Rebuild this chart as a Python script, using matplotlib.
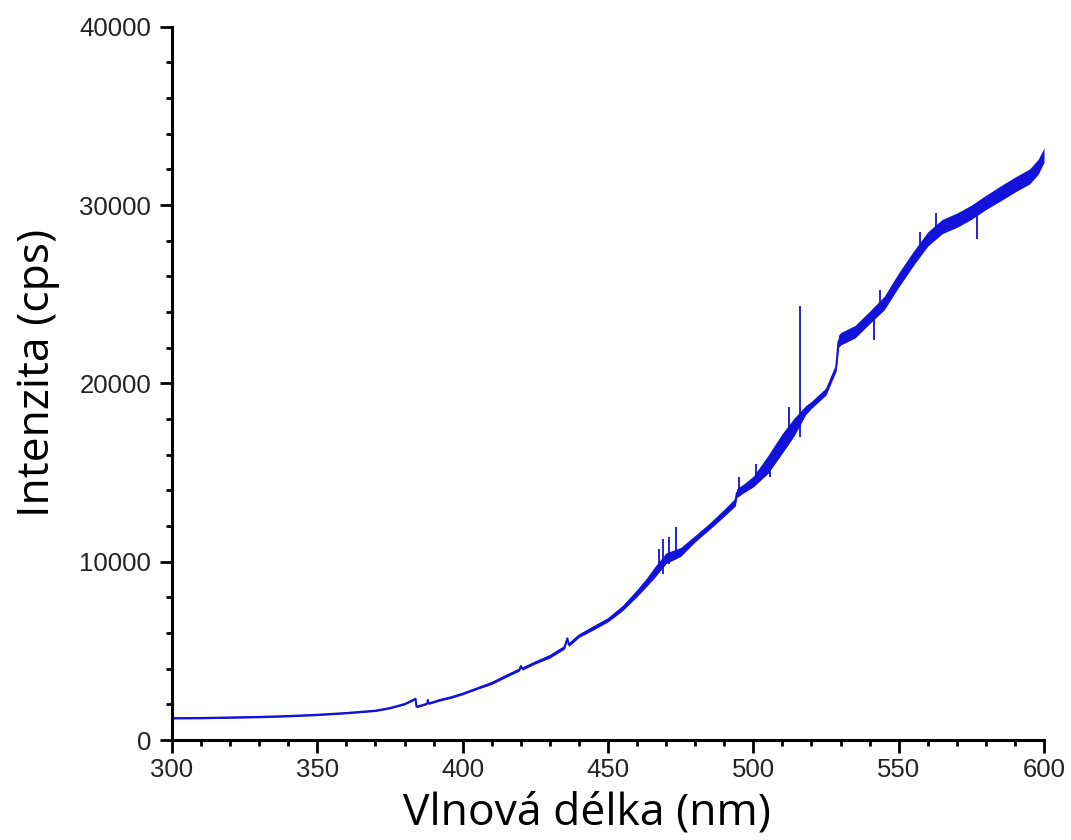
import numpy as np
import matplotlib
matplotlib.use("Agg")
import matplotlib.pyplot as plt
from matplotlib.ticker import MultipleLocator

# spectrum (center of the trace)
wl = [300, 310, 320, 330, 340, 350, 360, 370, 375, 380, 383.8, 384.1, 386, 387.8,
      388, 388.3, 392, 396, 400, 405, 410, 415, 419.5, 420, 420.5, 425, 430, 435,
      436, 436.5, 440, 445, 450, 455, 460, 463, 466, 470, 475, 480, 485, 490,
      493.8, 494.3, 497, 500, 505, 510, 514, 518, 520, 525, 528.5, 529.3, 530,
      535, 540, 545, 550, 555, 560, 565, 570, 575, 580, 585, 590, 595, 598, 600]
counts = [1230, 1240, 1270, 1300, 1350, 1420, 1520, 1650, 1800, 2020, 2320, 1870,
          1950, 2050, 2250, 2050, 2240, 2400, 2600, 2900, 3200, 3600, 3950, 4150,
          4000, 4350, 4700, 5200, 5700, 5350, 5850, 6300, 6750, 7400, 8250, 8800,
          9400, 10200, 10550, 11300, 12000, 12750, 13350, 13850, 14150, 14500,
          15450, 16650, 17550, 18500, 18800, 19550, 20900, 22350, 22500, 22900,
          23700, 24500, 25800, 27000, 28100, 28800, 29150, 29600, 30150, 30650,
          31150, 31600, 32150, 32800]
# half width of the noise band around the trace
noise = [50, 50, 50, 50, 50, 50, 50, 50, 50, 50, 50, 50, 50, 50, 50, 50, 60, 60,
         60, 60, 80, 80, 80, 80, 80, 80, 100, 100, 100, 100, 100, 120, 120, 150,
         200, 230, 300, 300, 250, 180, 180, 200, 220, 250, 250, 300, 500, 550,
         500, 250, 200, 200, 200, 350, 350, 350, 350, 380, 400, 400, 400, 400,
         400, 400, 400, 420, 420, 420, 420, 400]

# narrow lines / spikes: position, bottom, top
spike_wl = [467.5, 469, 471, 473.4, 495, 501, 505.7, 512.3, 516, 541.5, 543.5,
            557.3, 563, 577]
spike_lo = [9700, 9300, 9900, 10300, 13700, 14500, 14750, 17200, 17000, 22440,
            24000, 27500, 28800, 28100]
spike_hi = [10700, 11300, 11400, 11950, 14750, 15500, 15700, 18650, 24350, 23900,
            25250, 28500, 29550, 29800]

col = "#1212d8"

fig = plt.figure(figsize=(10.71, 8.4), dpi=100)
ax = fig.add_axes([0.1606, 0.119, 0.8142, 0.8491])

wl_a = np.array(wl)
c_a = np.array(counts)
n_a = np.array(noise)
ax.fill_between(wl_a, c_a - n_a, c_a + n_a, color=col, lw=0)
ax.plot(wl_a, c_a, color=col, lw=1.4)
ax.vlines(spike_wl, spike_lo, spike_hi, color=col, lw=1.3)

ax.set_xlim(300, 600)
ax.set_ylim(0, 40000)
ax.xaxis.set_major_locator(MultipleLocator(50))
ax.xaxis.set_minor_locator(MultipleLocator(10))
ax.yaxis.set_major_locator(MultipleLocator(10000))
ax.yaxis.set_minor_locator(MultipleLocator(2000))

for s in ["top", "right"]:
    ax.spines[s].set_visible(False)
for s in ["left", "bottom"]:
    ax.spines[s].set_linewidth(2.2)

ax.tick_params(which="major", direction="out", length=9, width=2, pad=4,
               labelsize=18.5, labelcolor="#222222")
ax.tick_params(which="minor", direction="out", length=4.5, width=2)
ax.tick_params(axis="y", which="major", pad=6)
for lab in ax.get_xticklabels() + ax.get_yticklabels():
    lab.set_family("Liberation Sans")

ax.set_xlabel("Vlnová délka (nm)", family="Open Sans", fontsize=32)
ax.set_ylabel("Intenzita (cps)", family="Open Sans", fontsize=32)
ax.xaxis.set_label_coords(0.476, -0.071)
ax.yaxis.set_label_coords(-0.129, 0.515)

fig.savefig("out.png", dpi=100)
